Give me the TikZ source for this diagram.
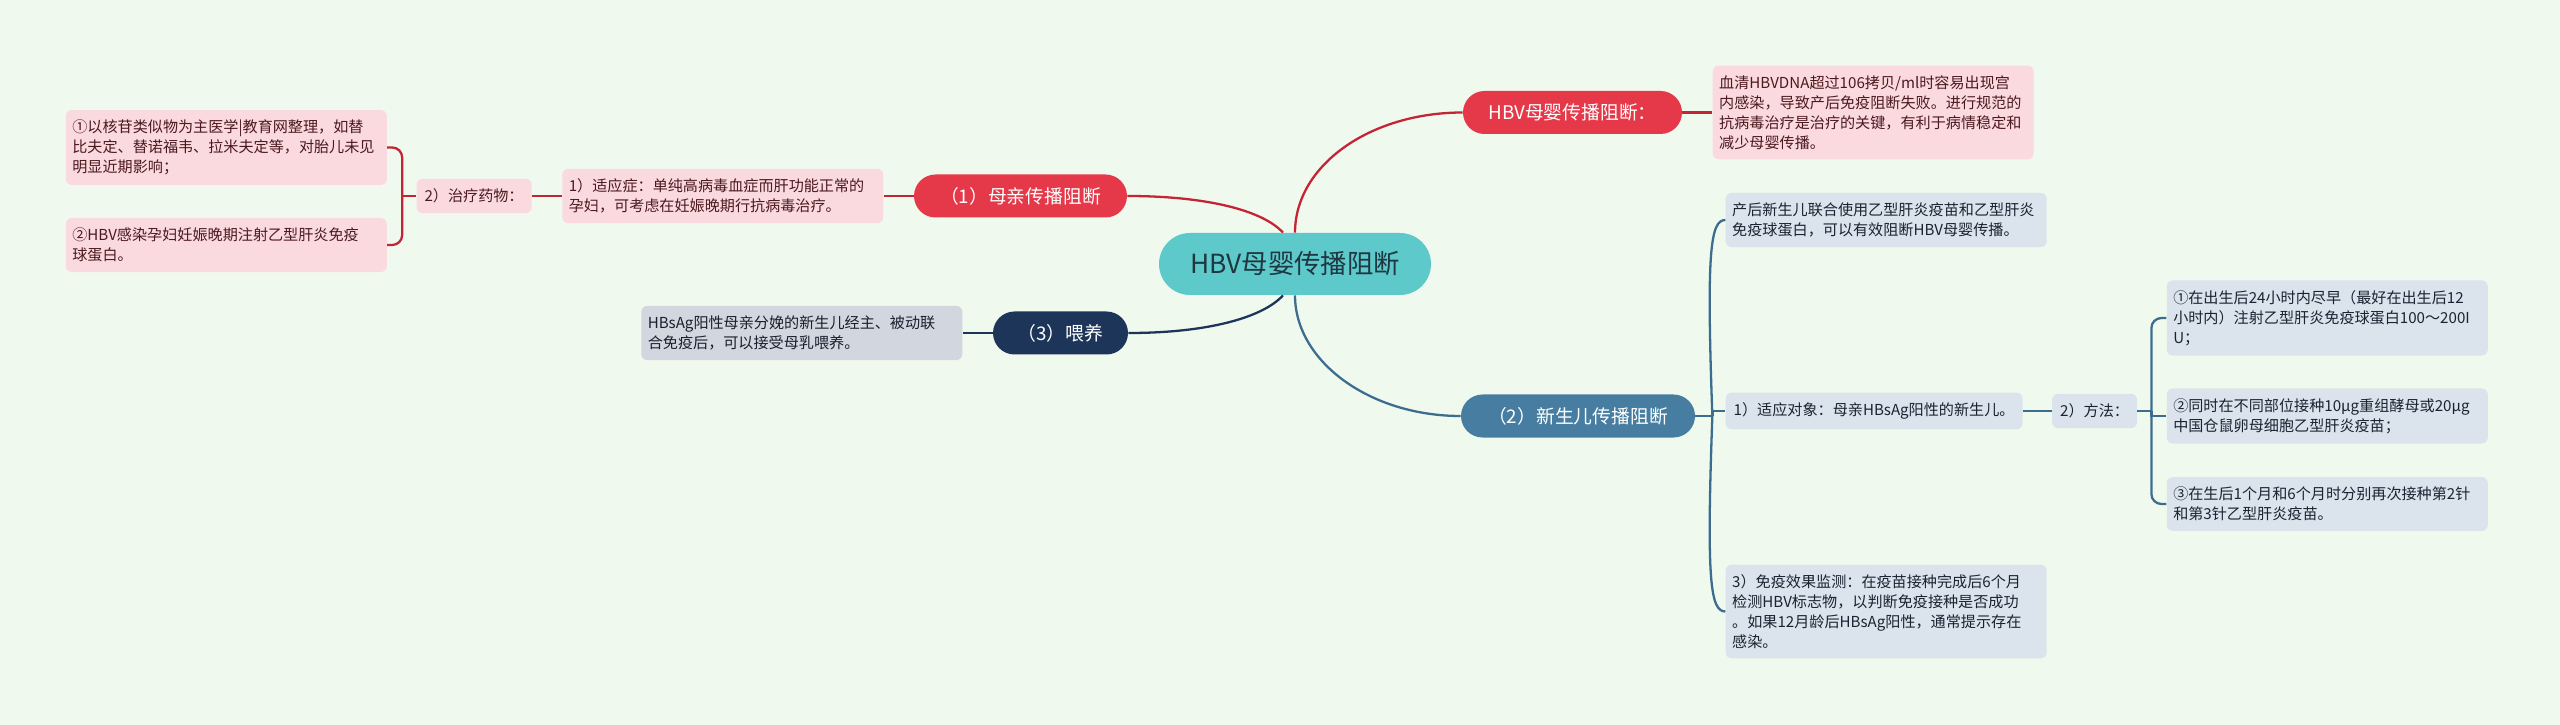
\documentclass[tikz,border=0pt]{standalone}
\usepackage{fontspec}
\usepackage{xcolor}
\usepackage{tikz}
\usetikzlibrary{positioning}
\newfontfamily\cjkfont{Noto Sans CJK SC}
\definecolor{bgmint}{RGB}{240,249,238}
\definecolor{rootteal}{RGB}{94,201,203}
\definecolor{roottext}{RGB}{30,55,65}
\definecolor{topicred}{RGB}{229,56,73}
\definecolor{linered}{RGB}{196,36,52}
\definecolor{leafred}{RGB}{250,218,222}
\definecolor{textred}{RGB}{75,25,30}
\definecolor{topicnavy}{RGB}{30,53,90}
\definecolor{leafnavy}{RGB}{210,215,223}
\definecolor{textnavy}{RGB}{25,30,45}
\definecolor{topicsteel}{RGB}{70,125,160}
\definecolor{linesteel}{RGB}{60,108,142}
\definecolor{leafsteel}{RGB}{219,228,236}
\definecolor{textsteel}{RGB}{25,35,50}
\newcommand{\leafsize}{\fontsize{8.6pt}{11.3pt}\selectfont}

\begin{document}
\begin{tikzpicture}[
  core/.style={
    rectangle, rounded corners=0.62cm, fill=rootteal, text=roottext,
    minimum width=5.44cm, minimum height=1.24cm, font=\cjkfont\fontsize{15pt}{18pt}\selectfont
  },
  topic/.style={
    rectangle, rounded corners=0.43cm, text=white, inner sep=0pt,
    minimum height=0.86cm, font=\cjkfont\fontsize{10.7pt}{13pt}\selectfont
  },
  leaf/.style={
    rectangle, rounded corners=0.12cm, align=left, text width=6.16cm,
    inner xsep=0.13cm, inner ysep=0.2cm, font=\cjkfont\leafsize
  },
  tagbox/.style={
    rectangle, rounded corners=0.12cm, inner xsep=0.16cm, inner ysep=0.2cm,
    font=\cjkfont\leafsize
  },
  redlink/.style={draw=linered, line width=1.3pt},
  navylink/.style={draw=topicnavy, line width=1.3pt},
  steellink/.style={draw=linesteel, line width=1.3pt}
]
  \fill[bgmint] (0,0) rectangle (51.2,-14.5);
  \useasboundingbox (0,0) rectangle (51.2,-14.5);

  \node[core] (hbv) at (25.9,-5.28) {HBV母婴传播阻断};
  \node[topic, fill=topicred, minimum width=4.38cm]   (key)     at (31.45,-2.25) {HBV母婴传播阻断：};
  \node[topic, fill=topicred, minimum width=4.26cm]   (mother)  at (20.41,-3.92) {（1）母亲传播阻断};
  \node[topic, fill=topicsteel, minimum width=4.68cm] (newborn) at (31.56,-8.32) {（2）新生儿传播阻断};
  \node[topic, fill=topicnavy, minimum width=2.7cm]   (feed)    at (21.21,-6.66) {（3）喂养};

  % mother side
  \node[leaf, fill=leafred, text=textred, right=0.6cm of key] (keynote)
    {血清HBVDNA超过106拷贝/ml时容易出现宫\\内感染，导致产后免疫阻断失败。进行规范的\\抗病毒治疗是治疗的关键，有利于病情稳定和\\减少母婴传播。};
  \node[leaf, fill=leafred, text=textred, left=0.6cm of mother] (indic)
    {1）适应症：单纯高病毒血症而肝功能正常的\\孕妇，可考虑在妊娠晚期行抗病毒治疗。};
  \node[tagbox, fill=leafred, text=textred, left=0.6cm of indic] (drug) {2）治疗药物：};
  \node[leaf, fill=leafred, text=textred, left=0.58cm of drug, yshift=0.97cm] (drugA)
    {①以核苷类似物为主医学|教育网整理，如替\\比夫定、替诺福韦、拉米夫定等，对胎儿未见\\明显近期影响；};
  \node[leaf, fill=leafred, text=textred, left=0.58cm of drug, yshift=-0.98cm] (drugB)
    {②HBV感染孕妇妊娠晚期注射乙型肝炎免疫\\球蛋白。};
  \coordinate[left=0.28cm of drug] (drugjoin);

  % feeding
  \node[leaf, fill=leafnavy, text=textnavy, left=0.6cm of feed] (feednote)
    {HBsAg阳性母亲分娩的新生儿经主、被动联\\合免疫后，可以接受母乳喂养。};

  % newborn side
  \coordinate[right=0.34cm of newborn] (nbjoin);
  \node[leaf, fill=leafsteel, text=textsteel, right=0.6cm of newborn, yshift=3.92cm] (vacc)
    {产后新生儿联合使用乙型肝炎疫苗和乙型肝炎\\免疫球蛋白，可以有效阻断HBV母婴传播。};
  \node[tagbox, fill=leafsteel, text=textsteel, right=0.6cm of newborn, yshift=0.1cm] (target)
    {1）适应对象：母亲HBsAg阳性的新生儿。};
  \node[leaf, fill=leafsteel, text=textsteel, right=0.6cm of newborn, yshift=-3.91cm] (monitor)
    {3）免疫效果监测：在疫苗接种完成后6个月\\检测HBV标志物，以判断免疫接种是否成功\\。如果12月龄后HBsAg阳性，通常提示存在\\感染。};
  \node[tagbox, fill=leafsteel, text=textsteel, right=0.58cm of target] (method) {2）方法：};
  \coordinate[right=0.28cm of method] (mjoin);
  \node[leaf, fill=leafsteel, text=textsteel, right=0.58cm of method, yshift=1.86cm] (stepA)
    {①在出生后24小时内尽早（最好在出生后12\\小时内）注射乙型肝炎免疫球蛋白100～200I\\U；};
  \node[leaf, fill=leafsteel, text=textsteel, right=0.58cm of method, yshift=-0.1cm] (stepB)
    {②同时在不同部位接种10μg重组酵母或20μg\\中国仓鼠卵母细胞乙型肝炎疫苗；};
  \node[leaf, fill=leafsteel, text=textsteel, right=0.58cm of method, yshift=-1.86cm] (stepC)
    {③在生后1个月和6个月时分别再次接种第2针\\和第3针乙型肝炎疫苗。};

  % connectors
  \draw[redlink] (hbv.north) .. controls +(0,1.34) and +(-1.86,0) .. (key.west);
  \draw[redlink] (key) -- (keynote);
  \draw[redlink] ([xshift=-0.24cm]hbv.north) .. controls +(-0.4,0.44) and +(1.6,0) .. (mother.east);
  \draw[redlink] (mother) -- (indic);
  \draw[redlink] (indic) -- (drug);
  \draw[redlink] (drug) -- (drugjoin);
  \draw[redlink, rounded corners=0.2cm] (drugA.east) -| (drugjoin) |- (drugB.east);

  \draw[navylink] ([xshift=-0.24cm]hbv.south) .. controls +(-0.4,-0.44) and +(1.6,0) .. (feed.east);
  \draw[navylink] (feed) -- (feednote);

  \draw[steellink] (hbv.south) .. controls +(0,-1.32) and +(-1.82,0) .. (newborn.west);
  \draw[steellink] (newborn) -- (nbjoin);
  \draw[steellink] (nbjoin) .. controls +(-0.12,3.3) and +(-0.3,0) .. (vacc.west);
  \draw[steellink] (nbjoin) |- (target.west);
  \draw[steellink] (nbjoin) .. controls +(-0.12,-3.3) and +(-0.3,0) .. (monitor.west);
  \draw[steellink] (target) -- (method);
  \draw[steellink] (method) -- (mjoin);
  \draw[steellink, rounded corners=0.2cm] (stepA.west) -| (mjoin) |- (stepC.west);
  \draw[steellink] (mjoin) |- (stepB.west);
\end{tikzpicture}
\end{document}
